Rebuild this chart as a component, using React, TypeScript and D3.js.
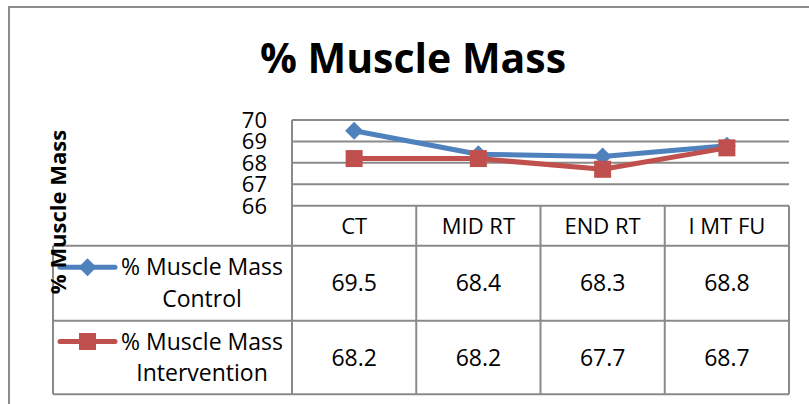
import React from "react";
import * as d3 from "d3";

const categories = ["CT", "MID RT", "END RT", "I MT FU"];
const controlValues = [69.5, 68.4, 68.3, 68.8];
const interventionValues = [68.2, 68.2, 67.7, 68.7];
const yTicks = [66, 67, 68, 69, 70];
const seriesNames = [
  ["% Muscle Mass", "Control"],
  ["% Muscle Mass", "Intervention"],
];
const title = "% Muscle Mass";
const yTitle = "% Muscle Mass";

const W = 809;
const H = 404;
const FONT = "'Open Sans', sans-serif";
const BLUE = "#4F81BD";
const RED = "#C0504D";
const GRID = "#8a8a8a";

export default function App() {
  const plotLeft = 292;
  const plotRight = 789;
  const plotTop = 120;
  const plotBottom = 205.7;
  const headerBottom = 245.7;
  const row1Bottom = 320.7;
  const row2Bottom = 394.3;
  const legendLeft = 53;

  const x = d3.scaleBand<string>().domain(categories).range([plotLeft, plotRight]);
  const cx = (c: string) => (x(c) as number) + x.bandwidth() / 2;
  const y = d3.scaleLinear().domain([66, 70]).range([plotBottom, plotTop]);

  const line = d3
    .line<number>()
    .x((_, i) => cx(categories[i]))
    .y((d) => y(d));

  const rows = [
    { name: seriesNames[0], values: controlValues, color: BLUE, marker: "diamond", top: headerBottom, bottom: row1Bottom },
    { name: seriesNames[1], values: interventionValues, color: RED, marker: "square", top: row1Bottom, bottom: row2Bottom },
  ];

  const marker = (type: string, px: number, py: number, color: string, key: string) =>
    type === "diamond" ? (
      <path key={key} d={`M${px},${py - 9}L${px + 9},${py}L${px},${py + 9}L${px - 9},${py}Z`} fill={color} />
    ) : (
      <rect key={key} x={px - 8.5} y={py - 8.5} width={17} height={17} fill={color} />
    );

  return (
    <svg
      width={W}
      height={H}
      style={{ position: "absolute", left: 0, top: 0, background: "#fff" }}
      fontFamily={FONT}
    >
      <rect x={0} y={0} width={W} height={H} fill="#fff" />
      {/* outer border */}
      <path d={`M9,${H}V7H${W}`} fill="none" stroke="#8c8c8c" strokeWidth={2} />

      {/* title */}
      <text x={413} y={73} textAnchor="middle" fontSize={41} fontWeight="bold" fill="#000">
        {title}
      </text>

      {/* gridlines */}
      {yTicks.map((t) => (
        <line key={t} x1={plotLeft} x2={plotRight} y1={y(t)} y2={y(t)} stroke={GRID} strokeWidth={2} />
      ))}
      {/* y tick labels */}
      {yTicks.map((t) => (
        <text key={"l" + t} x={267} y={y(t)} dy="0.36em" textAnchor="end" fontSize={22} fill="#000">
          {t}
        </text>
      ))}

      {/* table lines */}
      <g stroke={GRID} strokeWidth={2} fill="none">
        <line x1={plotLeft} x2={plotLeft} y1={plotTop} y2={row2Bottom} />
        <line x1={plotRight} x2={plotRight} y1={plotBottom} y2={row2Bottom} />
        <line x1={legendLeft} x2={legendLeft} y1={headerBottom} y2={row2Bottom} />
        {categories.slice(1).map((c) => (
          <line key={c} x1={x(c)} x2={x(c)} y1={plotBottom} y2={row2Bottom} />
        ))}
        <line x1={legendLeft} x2={plotRight} y1={headerBottom} y2={headerBottom} />
        <line x1={legendLeft} x2={plotRight} y1={row1Bottom} y2={row1Bottom} />
        <line x1={legendLeft} x2={plotRight} y1={row2Bottom} y2={row2Bottom} />
      </g>

      {/* header labels */}
      {categories.map((c) => (
        <text key={c} x={cx(c)} y={(plotBottom + headerBottom) / 2} dy="0.36em" textAnchor="middle" fontSize={22} fill="#000">
          {c}
        </text>
      ))}

      {/* rows */}
      {rows.map((r, ri) => {
        const mid = (r.top + r.bottom) / 2;
        return (
          <g key={ri}>
            {r.values.map((v, i) => (
              <text key={i} x={cx(categories[i])} y={mid} dy="0.36em" textAnchor="middle" fontSize={23} fill="#000">
                {v.toFixed(1)}
              </text>
            ))}
            <text x={202} y={mid - 8} textAnchor="middle" fontSize={23} fill="#000">
              {r.name[0]}
            </text>
            <text x={202} y={mid + 23.5} textAnchor="middle" fontSize={23} fill="#000">
              {r.name[1]}
            </text>
            <line x1={60} x2={115} y1={mid - 16} y2={mid - 16} stroke={r.color} strokeWidth={5} strokeLinecap="round" />
            {marker(r.marker, 87.5, mid - 16, r.color, "lm" + ri)}
          </g>
        );
      })}

      {/* series lines */}
      {rows.map((r, ri) => (
        <g key={"s" + ri}>
          <path d={line(r.values) as string} fill="none" stroke={r.color} strokeWidth={5} strokeLinejoin="round" />
          {r.values.map((v, i) => marker(r.marker, cx(categories[i]), y(v), r.color, "m" + i))}
        </g>
      ))}

      {/* y axis title */}
      <text
        transform={`translate(66,212) rotate(-90)`}
        textAnchor="middle"
        fontSize={22}
        fontWeight="bold"
        fill="#000"
      >
        {yTitle}
      </text>
    </svg>
  );
}
